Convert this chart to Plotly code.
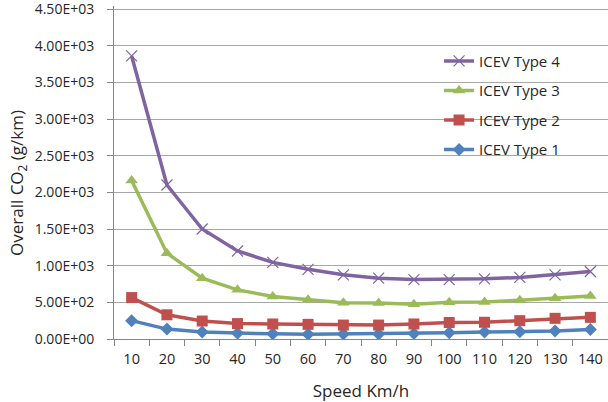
import plotly.graph_objects as go

speeds = ["10", "20", "30", "40", "50", "60", "70", "80", "90", "100", "110", "120", "130", "140"]

type1 = [250, 135, 95, 80, 70, 65, 68, 68, 75, 85, 95, 100, 110, 130]
type2 = [565, 330, 245, 210, 205, 200, 190, 190, 205, 225, 228, 250, 282, 295]
type3 = [2160, 1170, 830, 670, 580, 535, 495, 490, 475, 500, 505, 530, 555, 585]
type4 = [3860, 2100, 1500, 1200, 1045, 950, 875, 830, 810, 810, 820, 840, 875, 920]

series_names = ["ICEV Type 1", "ICEV Type 2", "ICEV Type 3", "ICEV Type 4"]

y_tickvals = [0, 500, 1000, 1500, 2000, 2500, 3000, 3500, 4000, 4500]
y_ticktext = ["0.00E+00", "5.00E+02", "1.00E+03", "1.50E+03", "2.00E+03",
              "2.50E+03", "3.00E+03", "3.50E+03", "4.00E+03", "4.50E+03"]

colors = ["#4F81BD", "#C0504D", "#9BBB59", "#8064A2"]
symbols = ["diamond", "square", "triangle-up", "x-thin"]
sizes = [10, 11, 11, 11]

FONT = "'Open Sans', 'Liberation Sans', sans-serif"
TXT = "#262626"

fig = go.Figure()
for i, (name, vals) in enumerate(zip(series_names, [type1, type2, type3, type4])):
    marker = dict(symbol=symbols[i], size=sizes[i], color=colors[i])
    if symbols[i] == "x-thin":
        marker["line"] = dict(color=colors[i], width=1.2)
    fig.add_trace(go.Scatter(
        x=speeds, y=vals, name=name, mode="lines+markers",
        line=dict(color=colors[i], width=3.5),
        marker=marker, legendgroup=name, legendrank=100 - i,
    ))

fig.add_shape(type="rect", xref="paper", yref="paper",
              x0=(397 - 114) / 494, x1=1.0, y0=(336 - 172) / 333, y1=(336 - 50) / 333,
              fillcolor="white", line=dict(width=0), layer="between")

fig.add_annotation(text="Overall CO<sub>2</sub> (g/km)", xref="paper", yref="paper",
                   x=(17 - 114) / 494, y=(336 - 180) / 333, textangle=-90,
                   xanchor="center", yanchor="middle", showarrow=False,
                   font=dict(family=FONT, size=17, color=TXT))

fig.update_layout(
    width=608, height=402,
    margin=dict(l=114, r=0, t=6, b=63),
    paper_bgcolor="white", plot_bgcolor="white",
    font=dict(family=FONT, size=14, color=TXT),
    showlegend=True,
    legend=dict(
        x=0.658, y=0.884, xanchor="left", yanchor="top",
        traceorder="grouped", tracegroupgap=7,
        bgcolor="rgba(255,255,255,0)", borderwidth=0,
        font=dict(family=FONT, size=15, color=TXT),
    ),
    xaxis=dict(
        type="category", showgrid=False, showline=True, linecolor="#868686", linewidth=1,
        ticks="outside", tickson="boundaries", ticklen=6, tickcolor="#868686",
        ticklabelstandoff=7,
        title=dict(text="Speed Km/h", font=dict(family=FONT, size=17, color=TXT), standoff=20),
        tickfont=dict(family=FONT, size=14.5, color=TXT),
        range=[-0.5, 13.5], automargin=False,
    ),
    yaxis=dict(
        range=[0, 4541], tickvals=y_tickvals, ticktext=y_ticktext,
        showgrid=True, gridcolor="#A6A6A6", gridwidth=1,
        showline=True, linecolor="#868686", linewidth=1,
        ticks="outside", ticklen=6, tickcolor="#868686",
        ticklabelstandoff=10, ticklabeloverflow="allow",
        tickfont=dict(family=FONT, size=14, color=TXT),
        zeroline=False, automargin=False,
    ),
)

fig.write_html("out.html", config={"displayModeBar": False},
               post_script="document.body.style.margin='0';")
